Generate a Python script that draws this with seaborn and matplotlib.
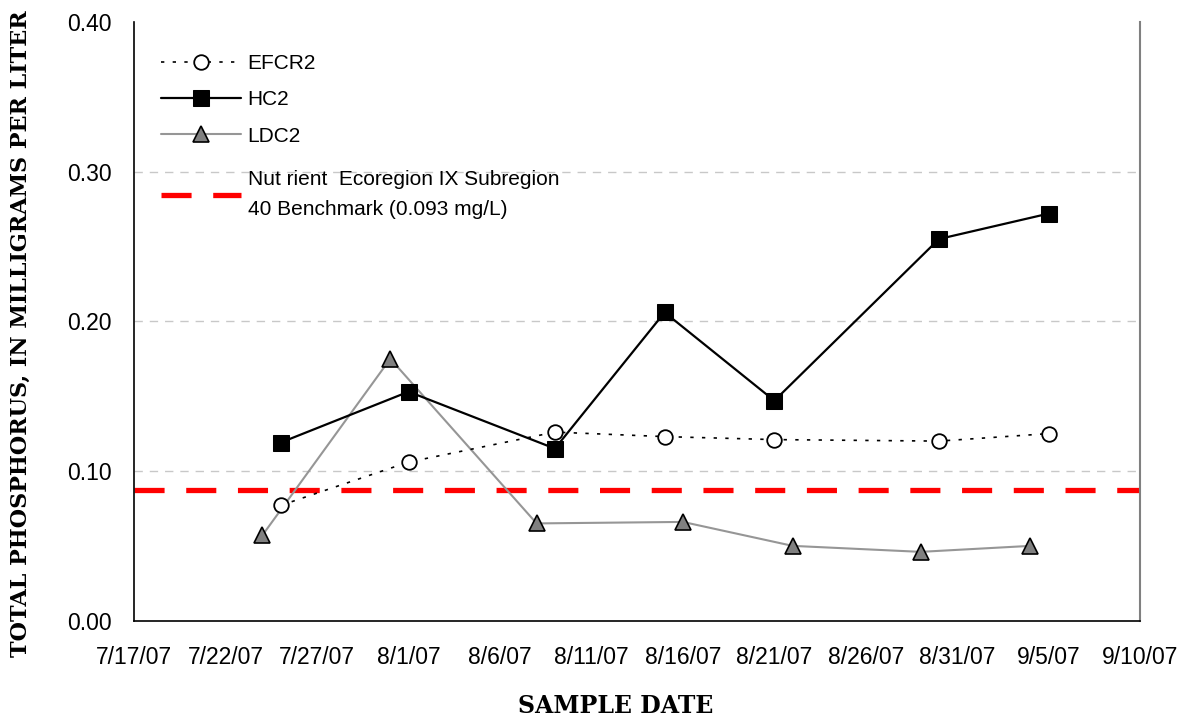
import datetime as dt
import matplotlib
matplotlib.use("Agg")
import matplotlib.pyplot as plt
import seaborn as sns

# sample dates (2007) and total phosphorus, mg/L
efcr2_dates = ["2007-07-25", "2007-08-01", "2007-08-09", "2007-08-15",
               "2007-08-21", "2007-08-30", "2007-09-05"]
efcr2_vals = [0.077, 0.106, 0.126, 0.123, 0.121, 0.120, 0.125]

hc2_dates = ["2007-07-25", "2007-08-01", "2007-08-09", "2007-08-15",
             "2007-08-21", "2007-08-30", "2007-09-05"]
hc2_vals = [0.119, 0.153, 0.115, 0.206, 0.147, 0.255, 0.272]

ldc2_dates = ["2007-07-24", "2007-07-31", "2007-08-08", "2007-08-16",
              "2007-08-22", "2007-08-29", "2007-09-04"]
ldc2_vals = [0.057, 0.175, 0.065, 0.066, 0.050, 0.046, 0.050]

benchmark = 0.087
benchmark_label = "Nut rient  Ecoregion IX Subregion\n40 Benchmark (0.093 mg/L)"

to_dt = lambda lst: [dt.datetime.strptime(d, "%Y-%m-%d") for d in lst]

sns.set_style("white")
plt.rcParams["font.family"] = ["Liberation Sans", "DejaVu Sans"]
plt.rcParams["text.color"] = "black"

fig = plt.figure(figsize=(11.79, 7.17), dpi=100)
ax = fig.add_axes([0.1139, 0.1343, 0.967 - 0.1139, 0.9693 - 0.1343])

xmin = dt.datetime(2007, 7, 17)
xmax = dt.datetime(2007, 9, 10)

# gridlines
for g in [0.1, 0.2, 0.3]:
    ax.axhline(g, color="#c8c8c8", lw=1.0, ls=(0, (6, 5)), zorder=0)

sns.lineplot(x=to_dt(efcr2_dates), y=efcr2_vals, ax=ax, color="black", lw=1.2,
             linestyle=(0, (2, 5)), marker="o", markersize=10.5,
             markerfacecolor="white", markeredgecolor="black", markeredgewidth=1.3,
             label="EFCR2", zorder=4)
sns.lineplot(x=to_dt(hc2_dates), y=hc2_vals, ax=ax, color="black", lw=1.6,
             marker="s", markersize=11, markerfacecolor="black",
             markeredgecolor="black", label="HC2", zorder=5)
sns.lineplot(x=to_dt(ldc2_dates), y=ldc2_vals, ax=ax, color="#969696", lw=1.5,
             marker="^", markersize=12, markerfacecolor="#808080",
             markeredgecolor="black", markeredgewidth=1.2, label="LDC2", zorder=3)
bench_line, = ax.plot([xmin, xmax], [benchmark, benchmark], color="#ff0000", lw=3.8,
                      ls=(0, (5.7, 4.1)), label=benchmark_label, zorder=2)

ax.set_xlim(xmin, xmax)
ax.set_ylim(0, 0.40)
ax.set_yticks([0, 0.1, 0.2, 0.3, 0.4])
ax.yaxis.set_major_formatter(matplotlib.ticker.FormatStrFormatter("%.2f"))
ticks = [xmin + dt.timedelta(days=5 * i) for i in range(12)]
ax.set_xticks(ticks)
ax.set_xticklabels([f"{t.month}/{t.day}/07" for t in ticks])
ax.tick_params(axis="both", labelsize=16.5, colors="black", direction="out")
ax.tick_params(axis="y", length=7, width=1, pad=9)
ax.tick_params(axis="x", length=5, width=1, pad=13)
ax.set_xlabel("")
ax.set_ylabel("")

for s in ["left", "bottom"]:
    ax.spines[s].set_color("black")
    ax.spines[s].set_linewidth(1.2)
ax.spines["right"].set_color("#808080")
ax.spines["right"].set_linewidth(1.5)
ax.spines["top"].set_visible(False)

handles, labels = ax.get_legend_handles_labels()
leg1 = ax.legend(handles[:3], labels[:3], loc="upper left",
                 bbox_to_anchor=(0.008, 0.978), frameon=False, fontsize=15,
                 handlelength=3.85, handletextpad=0.3, labelspacing=0.83)
for t in leg1.get_texts():
    t.set_color("black")
ax.add_artist(leg1)

leg2 = ax.legend([bench_line], [benchmark_label], loc="center left",
                 bbox_to_anchor=(0.008, 0.712), frameon=False, fontsize=15,
                 handlelength=3.85, handletextpad=0.3)
for t in leg2.get_texts():
    t.set_color("black")
    t.set_linespacing(1.75)

fig.text(0.522, 0.0056, "SAMPLE DATE", fontsize=17, fontweight="bold",
         family="DejaVu Serif", ha="center", va="baseline")
fig.text(0.008, 0.535, "TOTAL PHOSPHORUS, IN MILLIGRAMS PER LITER", fontsize=16,
         fontweight="bold", family="DejaVu Serif", rotation=90,
         ha="left", va="center")

fig.savefig("out.png", dpi=100)
